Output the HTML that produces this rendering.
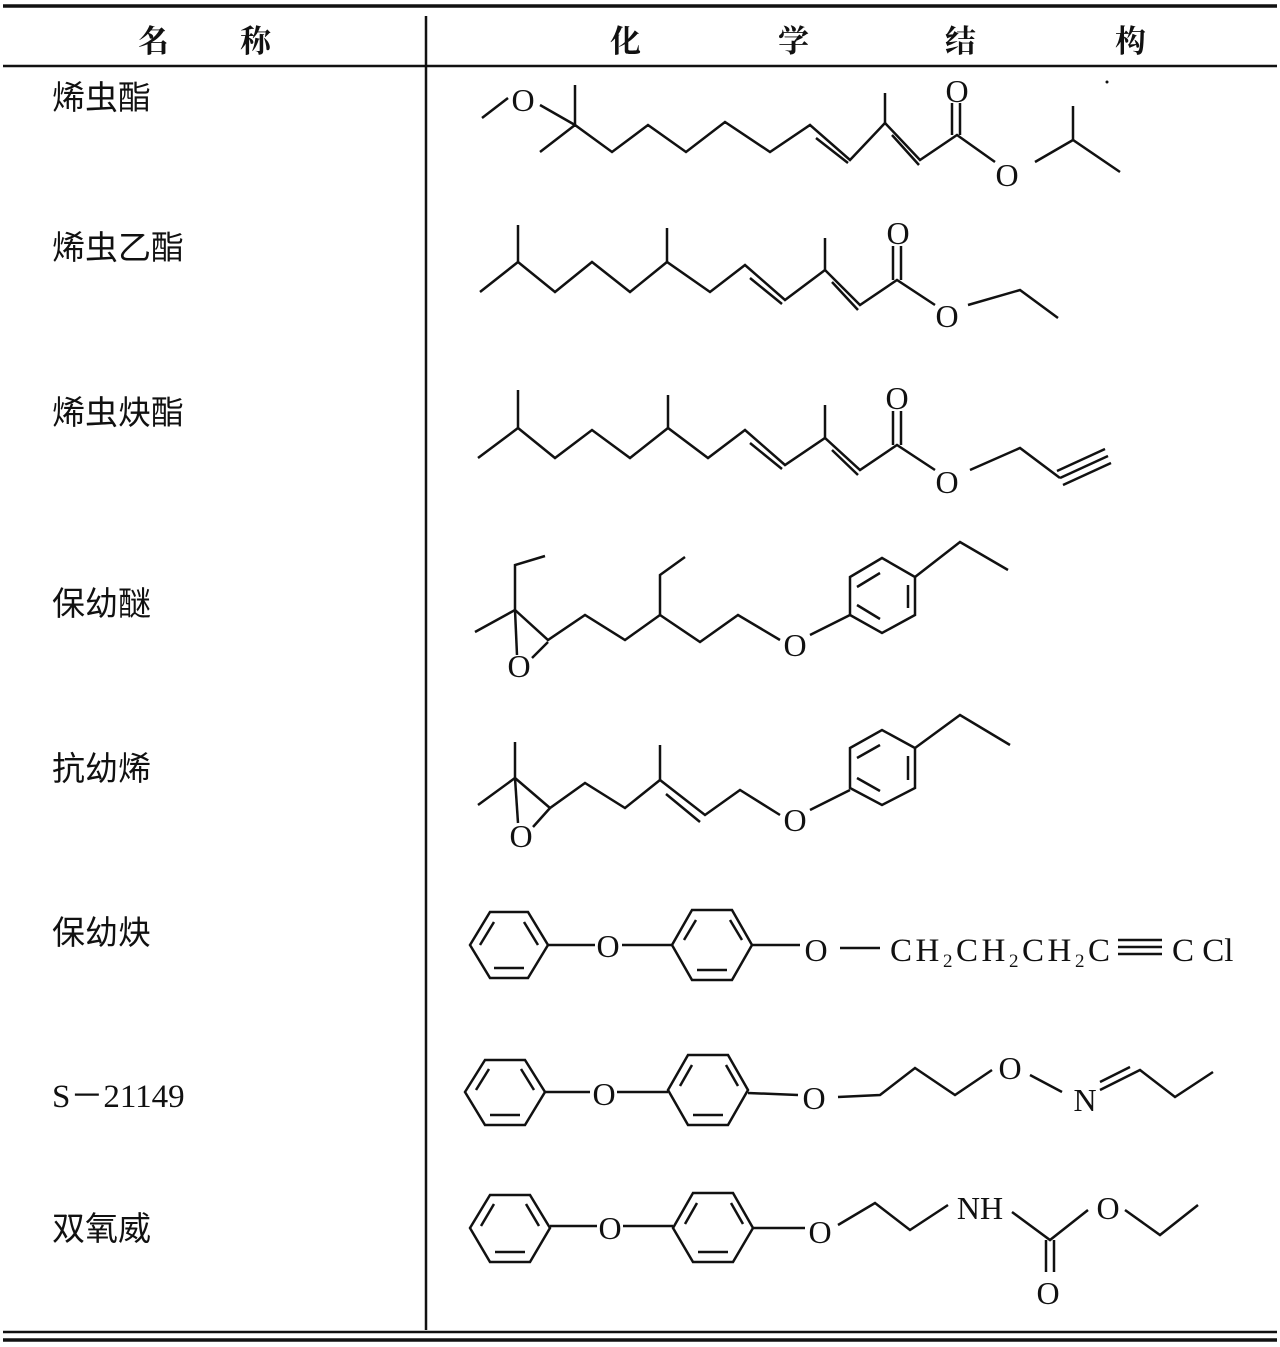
<!DOCTYPE html>
<html><head><meta charset="utf-8"><style>
html,body{margin:0;padding:0;background:#fff;}
svg{display:block}
text{font-family:"Liberation Serif","Noto Serif CJK SC",serif;fill:#111}
.n{font-family:"Liberation Sans","Noto Sans CJK SC",sans-serif;font-size:33px}
.s{font-family:"Liberation Serif",serif;font-size:33px}
.h{font-family:"Noto Serif CJK SC","Noto Sans CJK SC",serif;font-size:31px;font-weight:bold}
.a{font-size:32px;text-anchor:middle}
</style></head><body>
<svg width="1280" height="1347" viewBox="0 0 1280 1347" xmlns="http://www.w3.org/2000/svg">
<g stroke="#111" fill="none">
<line x1="3" y1="6" x2="1277" y2="6" stroke-width="3.5"/>
<line x1="3" y1="66" x2="1277" y2="66" stroke-width="2.5"/>
<line x1="426" y1="16" x2="426" y2="1330" stroke-width="2.5"/>
<line x1="3" y1="1332" x2="1277" y2="1332" stroke-width="2.5"/>
<line x1="3" y1="1340" x2="1277" y2="1340" stroke-width="3.5"/>
</g>
<text class="h" x="138" y="52">名</text><text class="h" x="240" y="52">称</text>
<text class="h" x="610" y="52">化</text><text class="h" x="778" y="52">学</text>
<text class="h" x="945" y="52">结</text><text class="h" x="1115" y="52">构</text>
<text class="n" x="52" y="109">烯虫酯</text>
<text class="n" x="52" y="259">烯虫乙酯</text>
<text class="n" x="52" y="424">烯虫炔酯</text>
<text class="n" x="52" y="615">保幼醚</text>
<text class="n" x="52" y="780">抗幼烯</text>
<text class="n" x="52" y="944">保幼炔</text>
<text class="s" x="52" y="1107">S－21149</text>
<text class="n" x="52" y="1240">双氧威</text>

<g stroke="#111" stroke-width="2.5" fill="none" stroke-linejoin="miter">
<!-- S1 -->
<polyline points="482,118 508,98"/>
<polyline points="540,105 575,125"/>
<polyline points="575,85 575,125"/>
<polyline points="540,152 575,125 612,152 648,125 686,152 725,122 770,152 810,125 850,160 885,123 920,160 957,135 995,162"/>
<line x1="816" y1="138" x2="848" y2="163"/>
<line x1="885" y1="123" x2="885" y2="93"/>
<line x1="892" y1="135" x2="919" y2="165"/>
<line x1="952" y1="135" x2="952" y2="103"/><line x1="960" y1="135" x2="960" y2="103"/>
<polyline points="1035,162 1073,140 1120,172"/>
<line x1="1073" y1="140" x2="1073" y2="106"/>
<!-- S2 -->
<line x1="518" y1="225" x2="518" y2="262"/>
<polyline points="480,292 518,262 555,292 592,262 630,292 667,262 710,292 745,265 785,300 825,270 860,305 897,280 935,305"/>
<line x1="667" y1="262" x2="667" y2="228"/>
<line x1="750" y1="278" x2="782" y2="304"/>
<line x1="825" y1="270" x2="825" y2="238"/>
<line x1="832" y1="282" x2="858" y2="310"/>
<line x1="893" y1="280" x2="893" y2="246"/><line x1="901" y1="280" x2="901" y2="246"/>
<polyline points="968,305 1020,290 1058,318"/>
<!-- S3 -->
<line x1="518" y1="390" x2="518" y2="428"/>
<polyline points="478,458 518,428 555,458 592,430 630,458 668,428 708,458 745,430 785,465 825,438 860,470 897,445 935,470"/>
<line x1="668" y1="428" x2="668" y2="395"/>
<line x1="750" y1="443" x2="782" y2="469"/>
<line x1="825" y1="438" x2="825" y2="405"/>
<line x1="832" y1="450" x2="858" y2="475"/>
<line x1="893" y1="445" x2="893" y2="411"/><line x1="901" y1="445" x2="901" y2="411"/>
<polyline points="970,470 1020,448 1060,478"/>
<line x1="1060" y1="478" x2="1108" y2="456"/>
<line x1="1063" y1="485" x2="1111" y2="463"/>
<line x1="1057" y1="471" x2="1105" y2="449"/>
<!-- S4 -->
<polyline points="545,556 515,565 515,610"/>
<polyline points="475,632 515,610 548,640 585,615 625,640 660,615 700,642 738,615 780,640"/>
<polyline points="515,610 517,655"/>
<line x1="532" y1="658" x2="548" y2="642"/>
<polyline points="660,615 660,575 685,557"/>
<line x1="810" y1="635" x2="850" y2="615"/>
<polygon points="850,615 850,577 882,558 915,577 915,615 882,633"/>
<line x1="857" y1="587" x2="880" y2="573"/><line x1="908" y1="585" x2="908" y2="608"/><line x1="857" y1="605" x2="880" y2="619"/>
<polyline points="915,577 960,542 1008,570"/>
<!-- S5 -->
<line x1="515" y1="742" x2="515" y2="778"/>
<polyline points="478,805 515,778 550,808 585,783 625,808 660,780 705,815 740,790 780,815"/>
<polyline points="515,778 518,823"/>
<line x1="533" y1="827" x2="550" y2="808"/>
<line x1="660" y1="780" x2="660" y2="745"/>
<line x1="666" y1="794" x2="700" y2="822"/>
<line x1="810" y1="810" x2="850" y2="790"/>
<polygon points="850,788 850,748 882,730 915,748 915,788 882,805"/>
<line x1="857" y1="758" x2="880" y2="745"/><line x1="908" y1="756" x2="908" y2="780"/><line x1="857" y1="778" x2="880" y2="791"/>
<polyline points="915,748 960,715 1010,745"/>
<!-- S6 -->
<polygon points="470,945 490,912 528,912 548,945 528,978 490,978"/>
<line x1="480" y1="945" x2="494" y2="922"/><line x1="494" y1="968" x2="524" y2="968"/><line x1="524" y1="922" x2="538" y2="945"/>
<line x1="548" y1="945" x2="595" y2="945"/><line x1="622" y1="945" x2="672" y2="945"/>
<polygon points="672,945 692,910 732,910 752,945 732,980 692,980"/>
<line x1="684" y1="940" x2="696" y2="920"/><line x1="697" y1="970" x2="727" y2="970"/><line x1="730" y1="920" x2="742" y2="940"/>
<line x1="752" y1="945" x2="800" y2="945"/>
<line x1="840" y1="948" x2="880" y2="948"/>
<line x1="1118" y1="940" x2="1162" y2="940"/><line x1="1118" y1="947" x2="1162" y2="947"/><line x1="1118" y1="954" x2="1162" y2="954"/>
<!-- S7 -->
<polygon points="465,1092 485,1060 525,1060 545,1092 525,1125 485,1125"/>
<line x1="476" y1="1090" x2="489" y2="1069"/><line x1="490" y1="1115" x2="520" y2="1115"/><line x1="521" y1="1069" x2="534" y2="1090"/>
<line x1="545" y1="1092" x2="590" y2="1092"/><line x1="617" y1="1092" x2="668" y2="1092"/>
<polygon points="668,1090 688,1055 728,1055 748,1090 728,1125 688,1125"/>
<line x1="680" y1="1086" x2="692" y2="1065"/><line x1="693" y1="1115" x2="723" y2="1115"/><line x1="726" y1="1065" x2="738" y2="1086"/>
<line x1="748" y1="1093" x2="798" y2="1095"/>
<polyline points="838,1097 880,1095 915,1068 955,1095 992,1070"/>
<line x1="1030" y1="1075" x2="1062" y2="1092"/>
<polyline points="1100,1090 1140,1070 1175,1097 1213,1072"/>
<line x1="1100" y1="1082" x2="1130" y2="1067"/>
<!-- S8 -->
<polygon points="470,1228 490,1195 530,1195 550,1228 530,1262 490,1262"/>
<line x1="481" y1="1226" x2="494" y2="1204"/><line x1="495" y1="1252" x2="525" y2="1252"/><line x1="526" y1="1204" x2="539" y2="1226"/>
<line x1="550" y1="1226" x2="597" y2="1226"/><line x1="623" y1="1226" x2="673" y2="1226"/>
<polygon points="673,1228 693,1193 733,1193 753,1228 733,1262 693,1262"/>
<line x1="685" y1="1224" x2="697" y2="1203"/><line x1="698" y1="1252" x2="728" y2="1252"/><line x1="731" y1="1203" x2="743" y2="1224"/>
<line x1="753" y1="1228" x2="805" y2="1228"/>
<polyline points="838,1225 875,1203 910,1230 948,1205"/>
<polyline points="1012,1212 1050,1240 1088,1210"/>
<line x1="1046" y1="1240" x2="1046" y2="1272"/><line x1="1054" y1="1240" x2="1054" y2="1272"/>
<polyline points="1125,1210 1160,1235 1198,1205"/>
</g>
<g>
<text class="a" x="523" y="111">O</text>
<text class="a" x="957" y="102">O</text>
<text class="a" x="1007" y="186">O</text>
<text class="a" x="898" y="244">O</text>
<text class="a" x="947" y="327">O</text>
<text class="a" x="897" y="409">O</text>
<text class="a" x="947" y="493">O</text>
<text class="a" x="519" y="677">O</text>
<text class="a" x="795" y="656">O</text>
<text class="a" x="521" y="847">O</text>
<text class="a" x="795" y="831">O</text>
<text class="a" x="608" y="957">O</text>
<text class="a" x="816" y="961">O</text>
<text class="a" x="604" y="1105">O</text>
<text class="a" x="814" y="1109">O</text>
<text class="a" x="1010" y="1079">O</text>
<text class="a" x="1085" y="1111">N</text>
<text class="a" x="610" y="1239">O</text>
<text class="a" x="820" y="1243">O</text>
<text class="a" x="980" y="1219">NH</text>
<text class="a" x="1108" y="1219">O</text>
<text class="a" x="1048" y="1304">O</text>
</g>
<text x="890" y="961" style="font-size:33px" textLength="220" lengthAdjust="spacing">CH<tspan font-size="19" dy="6">2</tspan><tspan dy="-6">CH</tspan><tspan font-size="19" dy="6">2</tspan><tspan dy="-6">CH</tspan><tspan font-size="19" dy="6">2</tspan><tspan dy="-6">C</tspan></text>
<text x="1172" y="961" style="font-size:33px">C Cl</text>
<circle cx="1107" cy="82" r="1.5" fill="#111"/>
</svg>
</body></html>
